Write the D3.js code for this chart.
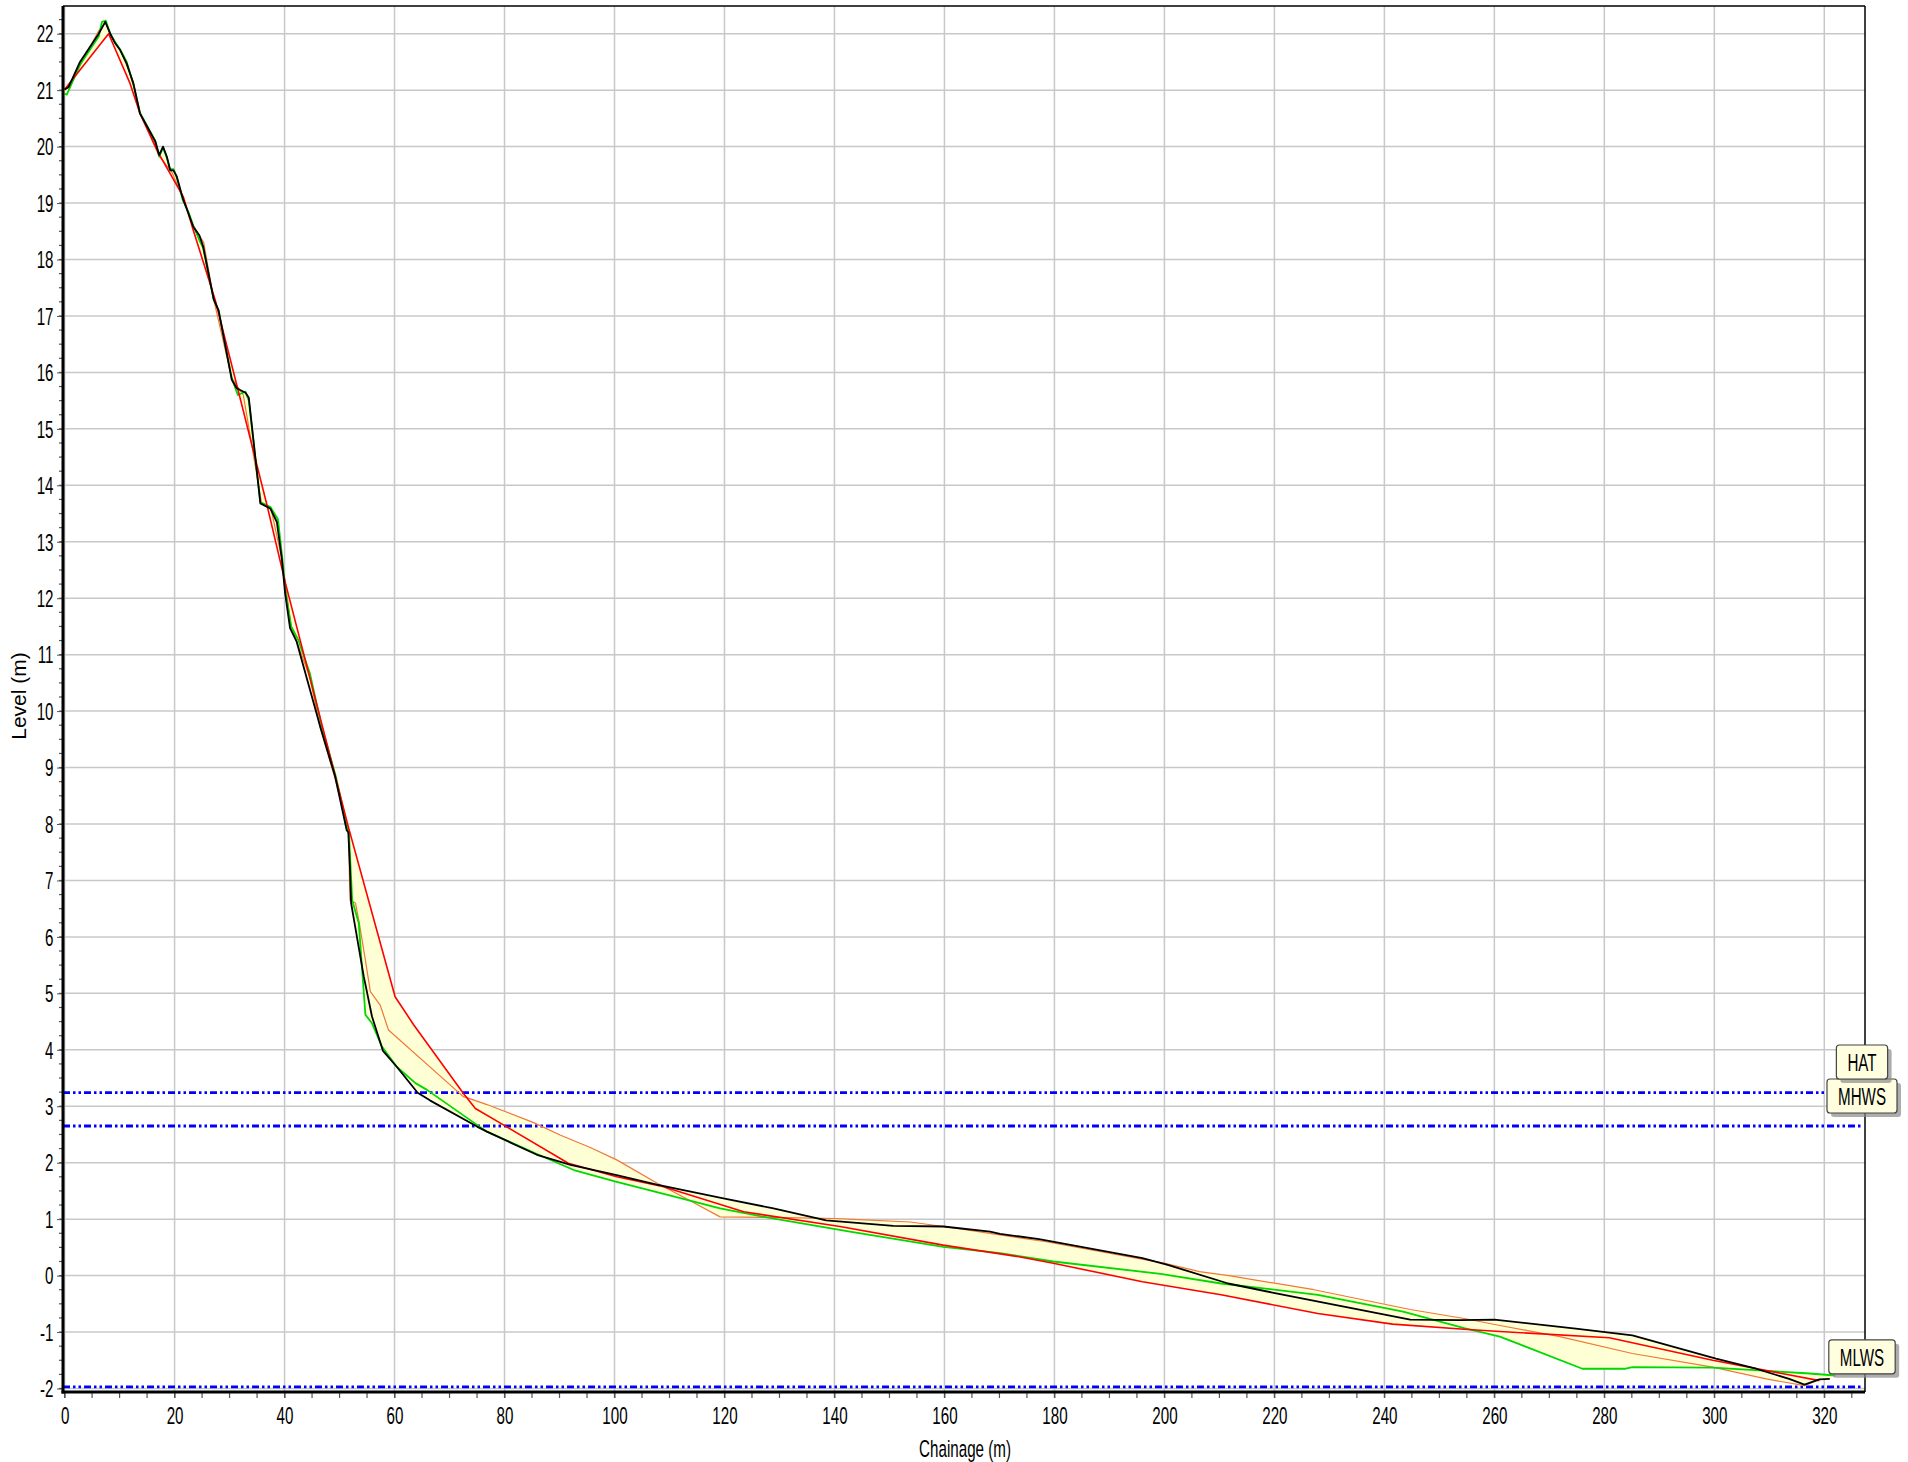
<!DOCTYPE html>
<html>
<head>
<meta charset="utf-8">
<script src="https://cdn.jsdelivr.net/npm/d3@7"></script>
<style>
  body { margin: 0; background: #fff; }
  svg { display: block; }
  .tick-lbl { font-family: "Liberation Sans", Arial, sans-serif; font-size: 18.5px; fill: #000; }
</style>
</head>
<body>
<svg width="1908" height="1462"></svg>
<script>
// profiles: [chainage (m), level (m)]
const blackProfile = [[0,21.01],[0.7,21.05],[2.8,21.5],[6.2,22.0],[7.4,22.21],[8.3,22.0],[9.2,21.83],[10.1,21.71],[11.3,21.47],[12.5,21.12],[13.7,20.59],[16.5,20.09],[17.2,19.85],[17.9,20.0],[18.6,19.82],[19.2,19.58],[19.8,19.58],[20.4,19.47],[21.5,19.08],[22.5,18.82],[23.4,18.58],[24.5,18.43],[25.2,18.23],[27.1,17.3],[28.0,17.1],[30.4,15.87],[31.3,15.72],[32.9,15.64],[33.5,15.55],[35.6,13.68],[37.4,13.59],[38.6,13.35],[39.5,12.7],[40.1,12.09],[41.0,11.47],[42.2,11.23],[46.5,9.72],[49.2,8.84],[51.3,7.89],[51.6,7.85],[51.9,7.2],[52.1,6.6],[54.4,5.3],[55.9,4.59],[57.9,3.98],[60.4,3.7],[64.2,3.24],[66.5,3.1],[75.0,2.64],[76.8,2.55],[85.9,2.14],[92.0,1.96],[100.4,1.78],[107.7,1.61],[119.8,1.37],[128.9,1.19],[138.5,0.98],[150.7,0.88],[159.8,0.87],[168.3,0.78],[170.1,0.74],[177.2,0.645],[196.0,0.31],[200.6,0.19],[211.6,-0.14],[220.1,-0.31],[244.7,-0.78],[253.8,-0.79],[260.0,-0.78],[274.8,-0.94],[285.1,-1.06],[300.3,-1.47],[307.6,-1.65],[313.6,-1.83],[316.4,-1.93],[319.1,-1.84],[321.0,-1.83]];

const greenProfile = [[0,20.94],[0.4,20.92],[2.8,21.45],[6.2,21.95],[6.8,22.21],[7.5,22.23],[8.3,22.0],[9.2,21.85],[10.1,21.72],[11.3,21.5],[12.5,21.1],[13.7,20.6],[16.5,20.1],[17.2,19.82],[17.9,19.98],[18.6,19.8],[19.2,19.6],[19.8,19.6],[20.4,19.45],[21.5,19.05],[22.5,18.85],[23.4,18.6],[24.6,18.32],[25.2,18.2],[27.1,17.3],[28.0,17.1],[30.4,15.9],[31.5,15.6],[32.9,15.66],[33.5,15.5],[35.6,13.7],[37.4,13.62],[38.8,13.4],[39.6,12.7],[40.2,12.1],[41.2,11.5],[42.5,11.26],[44.6,10.67],[46.7,9.75],[49.3,8.85],[51.5,7.9],[51.7,7.85],[52.3,6.65],[53.5,6.24],[54.7,4.62],[55.9,4.47],[57.7,4.06],[60.4,3.7],[63.8,3.41],[65.9,3.29],[75.0,2.67],[76.8,2.55],[86.0,2.15],[92.6,1.87],[100.4,1.66],[113.2,1.34],[119.2,1.19],[127.7,1.03],[142.8,0.78],[159.8,0.51],[170.1,0.4],[179.8,0.25],[199.3,0.03],[210.3,-0.14],[227.9,-0.34],[243.4,-0.64],[254.5,-0.93],[261.0,-1.08],[276.0,-1.65],[283.9,-1.65],[285.1,-1.62],[299.7,-1.63],[316.7,-1.73],[322.0,-1.77]];

const redProfile = [[0,21.01],[8.0,22.0],[11.9,21.12],[13.7,20.59],[17.1,19.88],[21.6,19.11],[23.4,18.52],[27.4,17.28],[31.9,15.55],[36.8,13.65],[40.1,12.29],[51.6,7.95],[60.1,4.94],[63.5,4.44],[72.5,3.23],[74.7,2.96],[79.8,2.67],[91.6,1.99],[100.4,1.75],[108.3,1.59],[123.5,1.13],[141.0,0.87],[159.8,0.54],[173.8,0.33],[179.8,0.22],[196.0,-0.11],[210.3,-0.34],[227.9,-0.67],[241.5,-0.86],[254.5,-0.95],[261.0,-0.99],[280.9,-1.1],[299.7,-1.5],[319.1,-1.86]];

const orangeProfile = [[0,21.0],[1.5,21.2],[4.0,21.65],[6.2,22.05],[7.4,22.2],[8.3,22.0],[10.1,21.72],[12.5,21.15],[13.7,20.6],[17.1,19.85],[19.5,19.55],[21.5,19.1],[23.4,18.6],[25.3,18.3],[27.1,17.3],[30.4,15.9],[32.5,15.6],[35.8,13.7],[37.5,13.6],[39.5,12.7],[41.2,11.5],[44.6,10.6],[46.5,9.7],[49.2,8.8],[51.6,7.9],[51.9,6.65],[52.9,6.6],[53.6,6.24],[54.7,5.59],[55.6,5.03],[57.4,4.79],[58.9,4.35],[72.5,3.17],[73.8,3.13],[76.8,3.03],[85.3,2.71],[90.1,2.49],[95.6,2.27],[100.4,2.05],[107.7,1.64],[113.5,1.34],[119.2,1.04],[128.9,1.03],[140.4,1.01],[153.8,0.95],[159.8,0.87],[170.1,0.72],[178.5,0.6],[199.9,0.22],[206.4,0.07],[212.3,-0.01],[227.2,-0.25],[244.7,-0.6],[254.5,-0.76],[260.8,-0.88],[271.9,-1.08],[285.1,-1.38],[299.7,-1.62],[309.4,-1.83],[316.4,-1.95],[319.1,-1.84]];

// tidal levels
const tideNames = ["HAT", "MHWS", "MLWS"];
const tideLevels = [3.24, 2.65, -1.97];

const xTicks = d3.range(0, 321, 20);
const yTicks = d3.range(-2, 23, 1);

const svg = d3.select("svg");
const plotLeft = 63, plotRight = 1865, plotTop = 6, plotBottom = 1392;
// text in the original is narrow and stretched tall
const stretch = "scale(0.82,1.25)";

const x = d3.scaleLinear().domain([-0.29, 327.4]).range([plotLeft, plotRight]);
const y = d3.scaleLinear().domain([-2.062, 22.491]).range([plotBottom, plotTop]);

// grid
const grid = svg.append("g");
grid.selectAll(".gx").data(xTicks).enter().append("line")
  .attr("x1", d => x(d)).attr("x2", d => x(d)).attr("y1", plotTop).attr("y2", plotBottom)
  .attr("stroke", "#c8c8c8").attr("stroke-width", 1.5);
grid.selectAll(".gy").data(yTicks).enter().append("line")
  .attr("x1", plotLeft).attr("x2", plotRight).attr("y1", d => y(d)).attr("y2", d => y(d))
  .attr("stroke", "#c8c8c8").attr("stroke-width", 1.5);

// envelope of all profiles for the yellow band
const profiles = [orangeProfile, greenProfile, redProfile, blackProfile];
const bis = d3.bisector(d => d[0]).left;
function interp(p, cx) {
  if (cx < p[0][0] || cx > p[p.length - 1][0]) return null;
  let i = bis(p, cx);
  if (i === 0) return p[0][1];
  const a = p[i - 1], b = p[i];
  return a[1] + (b[1] - a[1]) * (cx - a[0]) / (b[0] - a[0]);
}
const allX = Array.from(new Set(profiles.flatMap(p => p.map(d => d[0])))).sort((a, b) => a - b);
const band = allX.map(cx => {
  const v = profiles.map(p => interp(p, cx)).filter(d => d !== null);
  return { x: cx, hi: d3.max(v), lo: d3.min(v) };
});

svg.append("path").datum(band)
  .attr("fill", "#ffffd6")
  .attr("d", d3.area().x(d => x(d.x)).y0(d => y(d.lo)).y1(d => y(d.hi)));

// tide lines
svg.selectAll(".tide").data(tideLevels).enter().append("line")
  .attr("x1", plotLeft).attr("x2", plotRight - 3)
  .attr("y1", d => y(d)).attr("y2", d => y(d))
  .attr("stroke", "#0000ff").attr("stroke-width", 2.8)
  .attr("stroke-dasharray", "7,3,2.5,3,2.5,3");

// profile lines
const line = d3.line().x(d => x(d[0])).y(d => y(d[1]));
const styles = [
  { data: orangeProfile, color: "#f07838", w: 1.2 },
  { data: greenProfile, color: "#00d800", w: 1.8 },
  { data: redProfile, color: "#ff0000", w: 1.6 },
  { data: blackProfile, color: "#000000", w: 1.8 }
];
styles.forEach(s => {
  svg.append("path").datum(s.data)
    .attr("fill", "none").attr("stroke", s.color).attr("stroke-width", s.w)
    .attr("stroke-linejoin", "round")
    .attr("d", line);
});

// frame
svg.append("line").attr("x1", plotLeft).attr("x2", plotRight).attr("y1", plotTop).attr("y2", plotTop).attr("stroke", "#000").attr("stroke-width", 1.5);
svg.append("line").attr("x1", plotRight).attr("x2", plotRight).attr("y1", plotTop).attr("y2", plotBottom).attr("stroke", "#000").attr("stroke-width", 1.5);

// x axis
const xAxis = svg.append("g").attr("transform", `translate(0,${plotBottom})`);
xAxis.selectAll(".mt").data(d3.range(0, 326, 5)).enter().append("line")
  .attr("x1", d => x(d)).attr("x2", d => x(d)).attr("y1", 0).attr("y2", 6)
  .attr("stroke", "#555").attr("stroke-width", 1.2);
xAxis.call(d3.axisBottom(x).tickValues(xTicks).tickSize(6).tickSizeOuter(0))
  .call(g => g.select(".domain").remove())
  .call(g => g.selectAll(".tick line").attr("stroke", "#555"))
  .call(g => g.selectAll(".tick text").attr("class", "tick-lbl")
    .attr("y", 0).attr("dy", null).attr("dominant-baseline", "central")
    .attr("transform", `translate(0,24) ${stretch}`));
svg.append("line").attr("x1", plotLeft - 1.5).attr("x2", plotRight).attr("y1", plotBottom).attr("y2", plotBottom)
  .attr("stroke", "#000").attr("stroke-width", 3);

// y axis
const yAxis = svg.append("g").attr("transform", `translate(${plotLeft},0)`);
yAxis.selectAll(".mt").data(d3.range(-2, 22.5, 0.25)).enter().append("line")
  .attr("x1", -4).attr("x2", 0).attr("y1", d => y(d)).attr("y2", d => y(d))
  .attr("stroke", "#555").attr("stroke-width", 1.2);
yAxis.call(d3.axisLeft(y).tickValues(yTicks).tickSize(6).tickSizeOuter(0).tickFormat(d => String(d)))
  .call(g => g.select(".domain").remove())
  .call(g => g.selectAll(".tick line").attr("stroke", "#555"))
  .call(g => g.selectAll(".tick text").attr("class", "tick-lbl")
    .attr("x", 0).attr("dy", null).attr("dominant-baseline", "central").attr("text-anchor", "end")
    .attr("transform", `translate(-9.5,0) ${stretch}`));
svg.append("line").attr("x1", plotLeft).attr("x2", plotLeft).attr("y1", plotTop).attr("y2", plotBottom + 1.5)
  .attr("stroke", "#000").attr("stroke-width", 3);

// axis titles
svg.append("text").attr("class", "tick-lbl")
  .attr("text-anchor", "middle").attr("dominant-baseline", "central")
  .attr("transform", `translate(${(plotLeft + plotRight) / 2 + 1},1449) ${stretch}`)
  .text("Chainage (m)");
svg.append("text")
  .attr("text-anchor", "middle").attr("dominant-baseline", "central")
  .attr("font-family", "'Liberation Sans', Arial, sans-serif").attr("font-size", 21)
  .attr("transform", "translate(18,696) rotate(-90)")
  .text("Level (m)");

// tide labels, stacked from the lowest up so they don't overlap
const order = d3.range(tideLevels.length).sort((a, b) => tideLevels[a] - tideLevels[b]);
let prevTop = Infinity;
const boxX = 1862, boxH = 34;
order.forEach(i => {
  const b = Math.min(y(tideLevels[i]) - 13, prevTop);
  const t = b - boxH;
  prevTop = t;
  const g = svg.append("g");
  const txt = g.append("text").attr("class", "tick-lbl")
    .attr("text-anchor", "middle").attr("dominant-baseline", "central")
    .attr("transform", `translate(${boxX},${t + boxH / 2 + 1}) ${stretch}`)
    .text(tideNames[i]);
  const w = txt.node().getBBox().width * 0.82 + 22;
  g.insert("rect", "text").attr("x", boxX - w / 2 + 4).attr("y", t + 4).attr("width", w).attr("height", boxH)
    .attr("rx", 3).attr("fill", "#8a8a8a").attr("opacity", 0.7);
  g.insert("rect", "text").attr("x", boxX - w / 2).attr("y", t).attr("width", w).attr("height", boxH)
    .attr("rx", 3).attr("fill", "#ffffe0").attr("stroke", "#444").attr("stroke-width", 1.2);
});
</script>
</body>
</html>
